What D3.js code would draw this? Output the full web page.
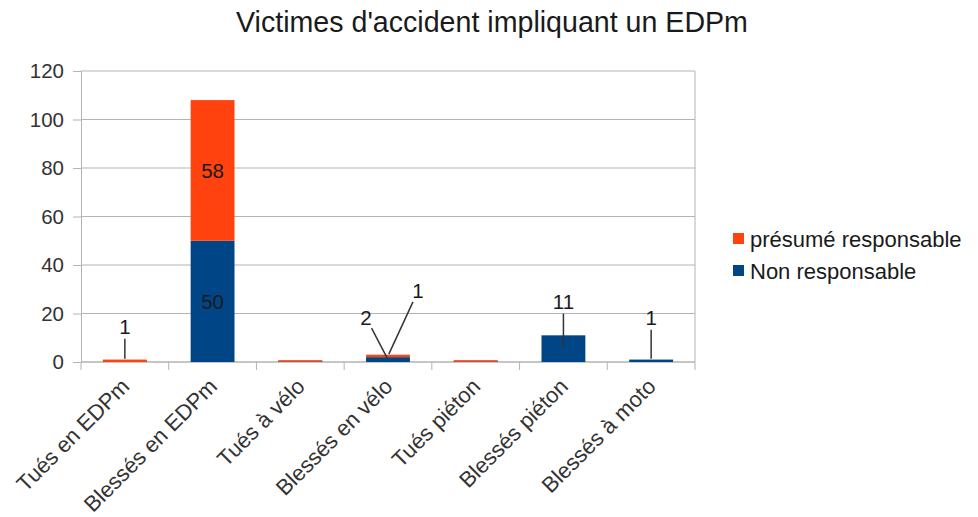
<!DOCTYPE html>
<html>
<head>
<meta charset="utf-8">
<script src="https://cdn.jsdelivr.net/npm/d3@7"></script>
<style>
  body { margin: 0; background: #fff; }
  text { font-family: "Liberation Sans", Arial, sans-serif; }
</style>
</head>
<body>
<svg width="978" height="517"></svg>
<script>
var categories = ["Tués en EDPm", "Blessés en EDPm", "Tués à vélo", "Blessés en vélo", "Tués piéton", "Blessés piéton", "Blessés à moto"];
// null = no bar at all, 0 = flat bar
var nonResponsable = [0, 50, 0, 2, 0, 11, 1];
var presumeResponsable = [1, 58, 0, 1, 0, null, null];
var yTicks = [0, 20, 40, 60, 80, 100, 120];

var seriesNames = ["Non responsable", "présumé responsable"];
var colors = ["#004586", "#ff420e"];

var svg = d3.select("svg"),
    width = +svg.attr("width"),
    height = +svg.attr("height");

var margin = {left: 81, right: 283, top: 71, bottom: 155};
var plotW = width - margin.left - margin.right,
    plotH = height - margin.top - margin.bottom;

var x = d3.scaleBand().domain(categories).range([margin.left, margin.left + plotW]).paddingInner(0.5).paddingOuter(0.25);
var xEdge = d3.scaleBand().domain(categories).range([margin.left, margin.left + plotW]);
var y = d3.scaleLinear().domain([0, 120]).range([margin.top + plotH, margin.top]);

// title
svg.append("text")
    .attr("x", 492).attr("y", 32)
    .attr("text-anchor", "middle")
    .style("font-size", "28.6px")
    .style("fill", "#1a1a1a")
    .text("Victimes d'accident impliquant un EDPm");

// grid
svg.append("g").selectAll("line").data(yTicks).enter().append("line")
    .attr("x1", margin.left).attr("x2", margin.left + plotW)
    .attr("y1", function(d) { return y(d); }).attr("y2", function(d) { return y(d); })
    .attr("stroke", "#b3b3b3").attr("stroke-width", 1);
svg.append("line")
    .attr("x1", margin.left + plotW).attr("x2", margin.left + plotW)
    .attr("y1", margin.top).attr("y2", margin.top + plotH)
    .attr("stroke", "#b3b3b3");

// y axis
var yAxis = svg.append("g")
    .attr("transform", "translate(" + margin.left + ",0)")
    .call(d3.axisLeft(y).tickValues(yTicks).tickSize(8).tickPadding(9));
yAxis.select(".domain").attr("stroke", "#b3b3b3");
yAxis.selectAll(".tick line").attr("stroke", "#b3b3b3");
yAxis.selectAll(".tick text").style("font-size", "20.5px").style("fill", "#333").style("font-family", "Liberation Sans, Arial, sans-serif");

// x axis ticks at category edges
var edges = categories.map(function(c) { return xEdge(c); }).concat([margin.left + plotW]);
svg.append("g").selectAll("line").data(edges).enter().append("line")
    .attr("x1", function(d) { return d; }).attr("x2", function(d) { return d; })
    .attr("y1", y(0)).attr("y2", y(0) + 8)
    .attr("stroke", "#b3b3b3");
svg.append("line")
    .attr("x1", margin.left).attr("x2", margin.left + plotW)
    .attr("y1", y(0)).attr("y2", y(0))
    .attr("stroke", "#b3b3b3");

svg.append("g").selectAll("text").data(categories).enter().append("text")
    .attr("transform", function(d) {
      return "translate(" + (x(d) + x.bandwidth() / 2 - 5) + "," + (y(0) + 15) + ") rotate(-45)";
    })
    .attr("text-anchor", "end")
    .attr("dy", "0.7em")
    .style("font-size", "22px")
    .style("fill", "#333")
    .text(function(d) { return d; });

// stacked bars
var rows = categories.map(function(c, i) {
  return {cat: c, non: nonResponsable[i], pre: presumeResponsable[i]};
});
var stack = d3.stack().keys(["non", "pre"]).value(function(d, k) { return d[k] == null ? 0 : d[k]; });
var layers = stack(rows);

layers.forEach(function(layer, li) {
  svg.append("g").selectAll("rect")
      .data(layer.filter(function(d) { return d.data[layer.key] != null; }))
      .enter().append("rect")
      .attr("x", function(d) { return x(d.data.cat); })
      .attr("width", x.bandwidth())
      .attr("y", function(d) { return d[1] === d[0] ? y(d[1]) - 1.5 : y(d[1]); })
      .attr("height", function(d) { return Math.max(1.5, y(d[0]) - y(d[1])); })
      .attr("fill", colors[li]);
});

// value labels; small segments get their label moved out with a leader line
var moved = {
  "Tués en EDPm|pre": [0, -34],
  "Blessés en vélo|non": [-22, -42],
  "Blessés en vélo|pre": [30, -65],
  "Blessés piéton|non": [0, -47],
  "Blessés à moto|non": [0, -43]
};

layers.forEach(function(layer) {
  layer.forEach(function(d) {
    var v = d.data[layer.key];
    if (v == null || v === 0) return;
    var cx = x(d.data.cat) + x.bandwidth() / 2,
        cy = (y(d[0]) + y(d[1])) / 2;
    var off = moved[d.data.cat + "|" + layer.key];
    var tx = cx, ty = cy;
    if (off) {
      tx = cx + off[0]; ty = cy + off[1];
      var dx = cx - tx, dy = cy - ty, len = Math.sqrt(dx * dx + dy * dy);
      svg.append("line")
          .attr("x1", tx + dx / len * 12).attr("y1", ty + dy / len * 12)
          .attr("x2", cx - dx / len * 2).attr("y2", cy - dy / len * 2)
          .attr("stroke", "#333").attr("stroke-width", 1.5);
    }
    svg.append("text")
        .attr("x", tx).attr("y", ty)
        .attr("dy", "0.36em")
        .attr("text-anchor", "middle")
        .style("font-size", "20.5px")
        .style("fill", "#1a1a1a")
        .text(v);
  });
});

// legend (top series first)
var legend = svg.append("g");
[1, 0].forEach(function(si, i) {
  var ly = 239 + i * 32;
  legend.append("rect")
      .attr("x", 733).attr("y", ly - 6)
      .attr("width", 11).attr("height", 11)
      .attr("fill", colors[si]);
  legend.append("text")
      .attr("x", 750).attr("y", ly)
      .attr("dy", "0.36em")
      .style("font-size", "22px")
      .style("fill", "#1a1a1a")
      .text(seriesNames[si]);
});
</script>
</body>
</html>
